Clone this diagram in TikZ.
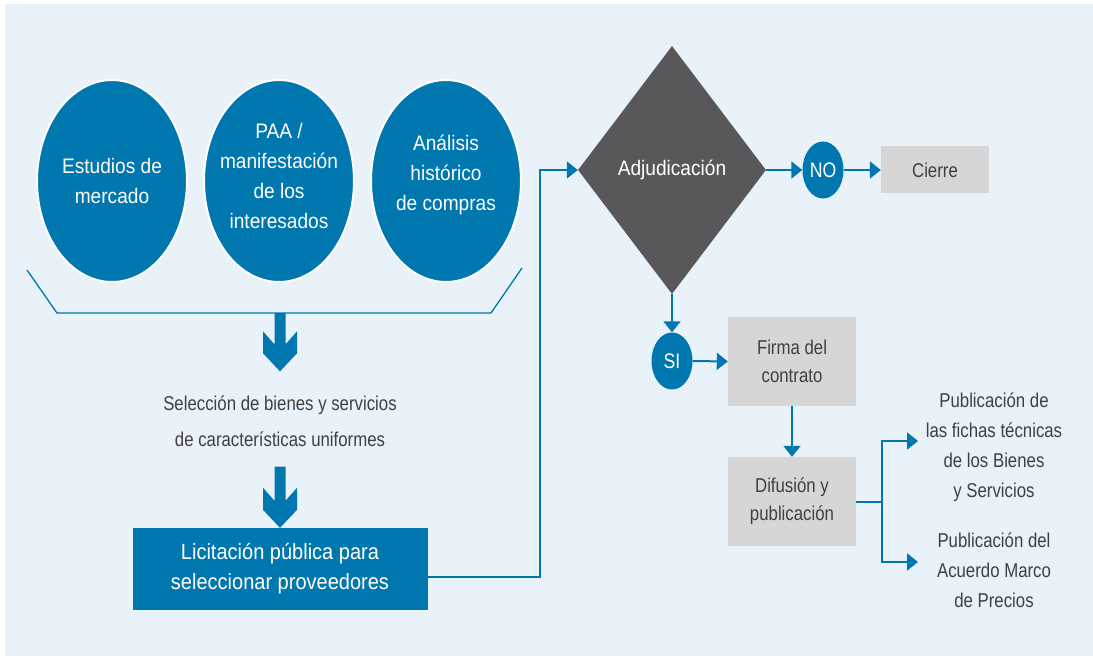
\documentclass[tikz,border=0pt]{standalone}
\usepackage{fontspec}
\setmainfont{Liberation Sans}
\newfontfamily\wfont{Liberation Sans}[FakeStretch=0.91]
\newfontfamily\nfont{Liberation Sans}[FakeStretch=0.84]
\usetikzlibrary{shapes.geometric,arrows.meta,calc}

\definecolor{mblue}{HTML}{0077AE}
\definecolor{bgblue}{HTML}{EAF2F9}
\definecolor{dgray}{HTML}{58585A}
\definecolor{lgray}{HTML}{D6D6D6}
\definecolor{tgray}{HTML}{404040}

\tikzset{
  conn/.style={draw=mblue, line width=2pt},
  tip/.style={-{Triangle[length=11pt,width=17pt]}},
  topic/.style={ellipse, fill=mblue, draw=white, line width=2pt,
    minimum width=150pt, minimum height=202pt, inner sep=0pt},
  topictext/.style={text=white, align=center, inner sep=0pt,
    font=\wfont\fontsize{21}{30}\selectfont},
  decision/.style={diamond, fill=dgray, minimum width=188pt,
    minimum height=248pt, inner sep=0pt, text=white,
    font=\wfont\fontsize{21}{30}\selectfont},
  answer/.style={ellipse, fill=mblue, minimum width=41pt,
    minimum height=57pt, inner sep=0pt, text=white,
    font=\nfont\fontsize{21}{26}\selectfont},
  bluebox/.style={rectangle, fill=mblue, text=white, align=center,
    minimum width=295pt, minimum height=82pt, inner sep=0pt,
    font=\wfont\fontsize{22}{30}\selectfont},
  graybox/.style={rectangle, fill=lgray, text=tgray, align=center,
    inner sep=0pt, font=\nfont\fontsize{20}{28}\selectfont},
  note/.style={text=tgray, align=center, inner sep=0pt,
    font=\nfont\fontsize{20}{30}\selectfont}
}

\begin{document}
\begin{tikzpicture}[x=1pt, y=-1pt]

  \newcommand\FatArrow[2]{%
    \fill[mblue] (#2) -- ++(-17,-18) -- ++(0,-22) -- ++(11.5,13)
      -- ($(#1)+(-5.5,0)$) -- ($(#1)+(5.5,0)$) -- ($(#2)+(5.5,-27)$)
      -- ++(11.5,-13) -- ++(0,22) -- cycle;
  }

  \useasboundingbox (0,0) rectangle (1093,658);
  \fill[bgblue] (5,4) rectangle (1093,656);

  \node[topic] (est) at (112,181) {};
  \node[topic] (paa) at (279,181) {};
  \node[topic] (his) at (446,181) {};
  \node[topictext] (est-txt) at (112,181) {Estudios de\\mercado};
  \node[topictext] (paa-txt) at (279,176) {PAA /\\manifestación\\de los\\interesados};
  \node[topictext] (his-txt) at (446,175) {Análisis\\histórico\\de compras};

  \draw[mblue, line width=1.3pt] (27,270) -- (57,313) -- (491,313) -- (522,268);
  \coordinate (brk) at (280,313);

  \node[note, font=\nfont\fontsize{20}{36}\selectfont] (sel) at (280,421)
    {Selección de bienes y servicios\\de características uniformes};
  \node[bluebox] (lic) at (280,569) {Licitación pública para\\seleccionar proveedores};

  \coordinate (sel-top) at ([yshift=24pt]sel.north);
  \coordinate (sel-bot) at ([yshift=-20pt]sel.south);
  \FatArrow{brk}{sel-top}
  \FatArrow{sel-bot}{lic.north}

  \node[decision] (adj) at (672,170) {Adjudicación};
  \node[answer] (no) at (823,170) {NO};
  \node[graybox, minimum width=108pt, minimum height=47pt] (cie) at (935,170) {Cierre};
  \node[answer] (si) at (672,361) {SI};
  \node[graybox, minimum width=128pt, minimum height=89pt] (fir) at (792,361.5) {Firma del\\contrato};
  \node[graybox, minimum width=128pt, minimum height=89pt] (dif) at (792,501.5) {Difusión y\\publicación};

  \node[note] (pub1) at (994,447)
    {Publicación de\\las fichas técnicas\\de los Bienes\\y Servicios};
  \node[note] (pub2) at (994,570)
    {Publicación del\\Acuerdo Marco\\de Precios};

  \draw[conn, tip] ($(lic.east)+(0,8)$) -| ($(adj.west)+(-38,0)$) -- (adj.west);
  \draw[conn, tip] (adj.east) -- (no.west);
  \draw[conn, tip] (no.east) -- (cie.west);
  \draw[conn, tip] (adj.south) -- (si.north);
  \draw[conn, tip] (si.east) -- (fir.west);
  \draw[conn, tip] (fir.south) -- (dif.north);

  \coordinate (fork) at ([xshift=26pt]dif.east);
  \coordinate (in1) at (918,441);
  \coordinate (in2) at (918,562);
  \draw[conn] (dif.east) -- (fork);
  \draw[conn, tip] (fork) |- (in1);
  \draw[conn, tip] (fork) |- (in2);

\end{tikzpicture}
\end{document}
